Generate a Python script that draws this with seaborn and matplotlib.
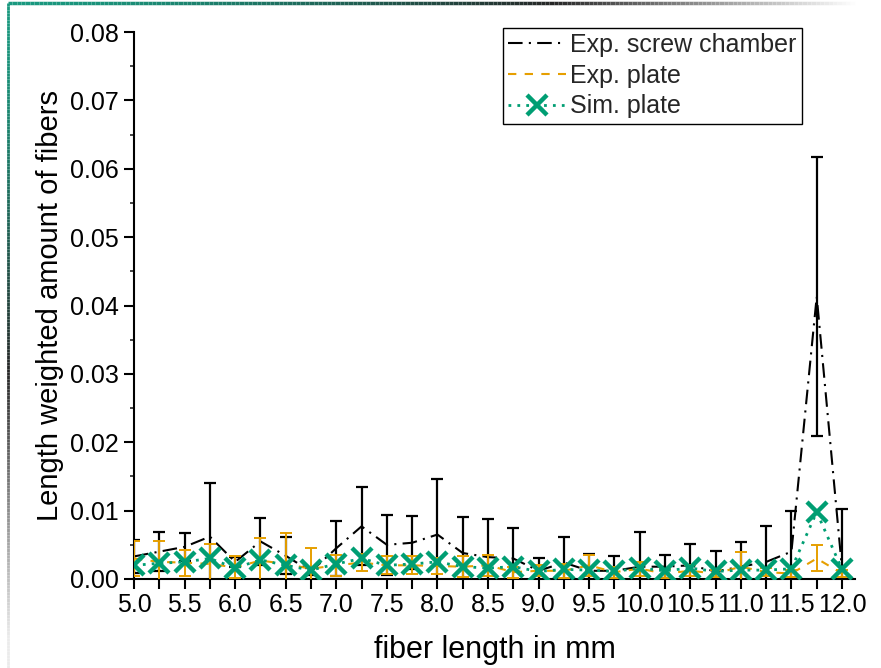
import numpy as np
import matplotlib
matplotlib.use("Agg")
import matplotlib.pyplot as plt
import seaborn as sns
from matplotlib.lines import Line2D
from matplotlib.collections import LineCollection
from matplotlib.ticker import MultipleLocator, FuncFormatter

# ---- data ----
fiber_length = [5.0, 5.25, 5.5, 5.75, 6.0, 6.25, 6.5, 6.75, 7.0, 7.25, 7.5, 7.75,
                8.0, 8.25, 8.5, 8.75, 9.0, 9.25, 9.5, 9.75, 10.0, 10.25, 10.5, 10.75,
                11.0, 11.25, 11.5, 11.75, 12.0]

screw_mean = [0.0033, 0.0040, 0.0047, 0.0062, 0.0025, 0.0055, 0.0034, 0.0011, 0.0045, 0.0077,
              0.0050, 0.0053, 0.0065, 0.0038, 0.0032, 0.0030, 0.0012, 0.0024, 0.0012, 0.0012,
              0.0018, 0.0018, 0.0020, 0.0011, 0.0018, 0.0025, 0.0040, 0.0413, 0.0015]
screw_err = [0.0024, 0.0029, 0.0021, 0.0078, 0.0007, 0.0034, 0.0027, 0.0005, 0.0040, 0.0057,
             0.0044, 0.0039, 0.0081, 0.0053, 0.0056, 0.0045, 0.0019, 0.0038, 0.0024, 0.0021,
             0.0051, 0.0017, 0.0031, 0.0030, 0.0036, 0.0053, 0.0060, 0.0204, 0.0087]

plate_mean = [0.0030, 0.0025, 0.0024, 0.0022, 0.0017, 0.0027, 0.0022, 0.0015, 0.0020, 0.0024,
              0.0020, 0.0020, 0.0019, 0.0018, 0.0020, 0.0010, 0.0012, 0.0012, 0.0020, 0.0010,
              0.0015, 0.0008, 0.0012, 0.0008, 0.0018, 0.0010, 0.0008, 0.0030, 0.0008]
plate_err = [0.0025, 0.0031, 0.0019, 0.0029, 0.0016, 0.0033, 0.0045, 0.0031, 0.0015, 0.0013,
             0.0013, 0.0013, 0.0012, 0.0015, 0.0015, 0.0008, 0.0008, 0.0010, 0.0015, 0.0008,
             0.0010, 0.0006, 0.0008, 0.0005, 0.0022, 0.0006, 0.0005, 0.0019, 0.0005]

sim_plate = [0.0020, 0.0023, 0.0025, 0.0030, 0.0016, 0.0028, 0.0020, 0.0013, 0.0022, 0.0030,
             0.0020, 0.0022, 0.0025, 0.0018, 0.0016, 0.0018, 0.0011, 0.0014, 0.0013, 0.0011,
             0.0016, 0.0012, 0.0016, 0.0011, 0.0013, 0.0013, 0.0015, 0.0098, 0.0014]

series_labels = ["Exp. screw chamber", "Exp. plate", "Sim. plate"]
x_label = "fiber length in mm"
y_label = "Length weighted amount of fibers"

# ---- style ----
sns.set_theme(style="ticks")
plt.rcParams["font.family"] = ["Liberation Sans", "DejaVu Sans"]

BLACK = "#000000"
ORANGE = "#E69F00"
GREEN = "#009E73"

W, H = 881, 668
fig = plt.figure(figsize=(W / 100, H / 100), dpi=100)
ax = fig.add_axes([134 / W, 89 / H, (855 - 134) / W, (579 - 32) / H])

dash_black = (0, (7, 3, 1, 3))
dash_orange = (0, (4, 4))
dot_green = (0, (1, 2.2))

# error bars
ax.errorbar(fiber_length, screw_mean, yerr=screw_err, fmt="none", ecolor=BLACK,
            elinewidth=1.6, capsize=4.5, capthick=1.6, zorder=2)
ax.errorbar(fiber_length, plate_mean, yerr=plate_err, fmt="none", ecolor=ORANGE,
            elinewidth=1.4, capsize=4.5, capthick=1.4, zorder=3)

# lines
sns.lineplot(x=fiber_length, y=screw_mean, ax=ax, color=BLACK, linewidth=1.5,
             linestyle=dash_black, zorder=2.5)
sns.lineplot(x=fiber_length, y=plate_mean, ax=ax, color=ORANGE, linewidth=1.5,
             linestyle=dash_orange, zorder=3.5)
sns.lineplot(x=fiber_length, y=sim_plate, ax=ax, color=GREEN, linewidth=2.0,
             linestyle=dot_green, marker="x", markersize=14, markeredgewidth=3.2,
             markeredgecolor=GREEN, zorder=4)

ax.set_xlim(5.0, 12.0 + 13 / 101.2)
ax.set_ylim(0, 0.08)

for s in ["top", "right"]:
    ax.spines[s].set_visible(False)
for s in ["left", "bottom"]:
    ax.spines[s].set_linewidth(1.5)
    ax.spines[s].set_color("black")

ax.xaxis.set_major_locator(MultipleLocator(0.5))
ax.xaxis.set_minor_locator(MultipleLocator(0.25))
ax.xaxis.set_major_formatter(FuncFormatter(lambda v, p: f"{v:.1f}"))
ax.yaxis.set_major_locator(MultipleLocator(0.01))
ax.yaxis.set_minor_locator(MultipleLocator(0.005))
ax.yaxis.set_major_formatter(FuncFormatter(lambda v, p: f"{v:.2f}"))

ax.tick_params(axis="x", which="both", direction="out", length=7, width=1.5,
               labelsize=18, pad=3, colors="black")
ax.tick_params(axis="y", which="major", direction="out", length=7, width=1.5,
               labelsize=18, pad=4, colors="black")
ax.tick_params(axis="y", which="minor", direction="out", length=3, width=1.2)
ax.set_xlabel(x_label, fontsize=22, labelpad=13, color="black")
ax.set_ylabel(y_label, fontsize=21, labelpad=4, color="black")

handles = [
    Line2D([], [], color=BLACK, lw=1.5, linestyle=dash_black),
    Line2D([], [], color=ORANGE, lw=1.5, linestyle=dash_orange),
    Line2D([], [], color=GREEN, lw=2.0, linestyle=dot_green, marker="x",
           markersize=14, markeredgewidth=3.2),
]
leg = ax.legend(handles, series_labels, loc="upper left",
                bbox_to_anchor=((503 - 134) / (855 - 134), 1 + 4 / 547),
                fontsize=18, frameon=True, fancybox=False, edgecolor="black",
                framealpha=1, borderpad=0.2, labelspacing=0.27, handlelength=2.3,
                handletextpad=0.2, borderaxespad=0)
leg.get_frame().set_linewidth(1.0)

# decorative frame lines (gradient)
n = 200
xs = np.linspace(8 / W, 1.0, n + 1)
ytop = 1 - 3 / H
segs = [[(xs[i], ytop), (xs[i + 1], ytop)] for i in range(n)]
cols = []
teal = np.array([0.10, 0.60, 0.50])
dark = np.array([0.15, 0.15, 0.15])
light = np.array([1.0, 1.0, 1.0])
for i in range(n):
    t = (xs[i] - xs[0]) / (1 - xs[0])
    if t < 0.62:
        c = teal + (dark - teal) * (t / 0.62) ** 1.5
    else:
        c = dark + (light - dark) * min(1.0, (t - 0.62) / 0.35)
    cols.append(tuple(c))
fig.add_artist(LineCollection(segs, colors=cols, linewidths=2.5, transform=fig.transFigure))

ys = np.linspace(1 - 3 / H, 0.0, n + 1)
xl = 8 / W
segs2 = [[(xl, ys[i]), (xl, ys[i + 1])] for i in range(n)]
cols2 = []
for i in range(n):
    t = i / n
    if t < 0.55:
        c = teal + (dark - teal) * (t / 0.55) ** 1.5
    else:
        c = dark + (np.array([0.92, 0.92, 0.92]) - dark) * min(1.0, (t - 0.55) / 0.4)
    cols2.append(tuple(c))
fig.add_artist(LineCollection(segs2, colors=cols2, linewidths=2.0, transform=fig.transFigure))

fig.savefig("out.png", dpi=100)
